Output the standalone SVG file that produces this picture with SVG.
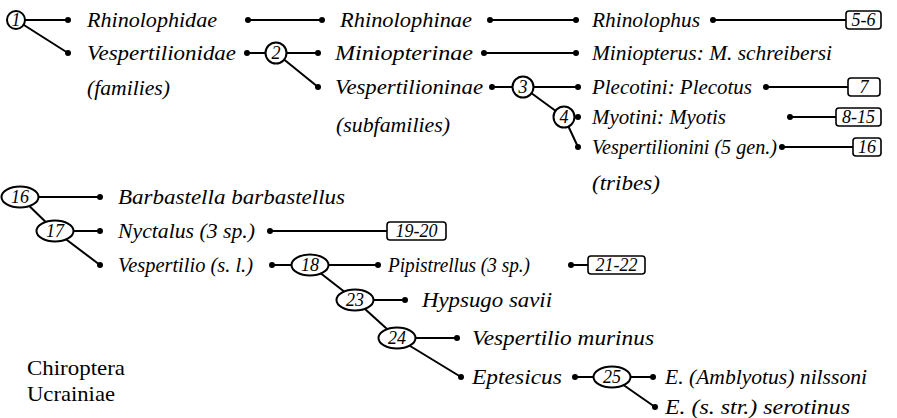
<svg xmlns="http://www.w3.org/2000/svg" width="897" height="418" viewBox="0 0 897 418">
<style>
text{font-family:"Liberation Serif","Times New Roman","DejaVu Serif",serif}
.t{font-size:22px;font-style:italic}
.u{font-size:22px;font-style:normal}
.n{font-size:18px;font-style:italic;text-anchor:middle}
.c{fill:#fff;stroke:#000;stroke-width:2}
.b{fill:#fff;stroke:#000;stroke-width:1.6}
#connectors line{stroke:#000;stroke-width:2}
.d{fill:#000}
</style>
<rect width="897" height="418" fill="#fff"/>
<g id="connectors">
<line x1="16" y1="20" x2="68" y2="20"/><line x1="16" y1="20" x2="68" y2="53"/>
<line x1="248" y1="20" x2="322" y2="20"/>
<line x1="490" y1="20" x2="576" y2="20"/>
<line x1="713" y1="20" x2="846" y2="20"/>
<line x1="247" y1="53" x2="318" y2="53"/><line x1="276" y1="53" x2="318" y2="87"/>
<line x1="484" y1="53" x2="576" y2="53"/>
<line x1="492" y1="87" x2="578" y2="87"/><line x1="523" y1="87" x2="564" y2="117"/>
<line x1="564" y1="117" x2="578" y2="117"/><line x1="564" y1="117" x2="578" y2="147"/>
<line x1="766" y1="87" x2="848" y2="87"/>
<line x1="790" y1="117" x2="836" y2="117"/>
<line x1="782" y1="147" x2="853" y2="147"/>
<line x1="20" y1="197" x2="100" y2="197"/><line x1="20" y1="197" x2="55" y2="231"/>
<line x1="55" y1="231" x2="100" y2="231"/><line x1="55" y1="231" x2="100" y2="265"/>
<line x1="270" y1="231" x2="387" y2="231"/>
<line x1="272" y1="265" x2="378" y2="265"/><line x1="310" y1="265" x2="355" y2="300"/>
<line x1="571" y1="265" x2="588" y2="265"/>
<line x1="355" y1="300" x2="405" y2="300"/><line x1="355" y1="300" x2="397" y2="338"/>
<line x1="397" y1="338" x2="457" y2="338"/><line x1="397" y1="338" x2="461" y2="377"/>
<line x1="575" y1="377" x2="653" y2="377"/><line x1="612" y1="377" x2="655" y2="407"/>
</g>
<g id="dots">
<circle class="d" cx="68" cy="20" r="3"/><circle class="d" cx="68" cy="53" r="3"/>
<circle class="d" cx="248" cy="20" r="3"/><circle class="d" cx="322" cy="20" r="3"/>
<circle class="d" cx="490" cy="20" r="3"/><circle class="d" cx="576" cy="20" r="3"/>
<circle class="d" cx="713" cy="20" r="3"/>
<circle class="d" cx="247" cy="53" r="3"/><circle class="d" cx="318" cy="53" r="3"/><circle class="d" cx="318" cy="87" r="3"/>
<circle class="d" cx="484" cy="53" r="3"/><circle class="d" cx="576" cy="53" r="3"/>
<circle class="d" cx="492" cy="87" r="3"/><circle class="d" cx="578" cy="87" r="3"/>
<circle class="d" cx="578" cy="117" r="3"/><circle class="d" cx="578" cy="147" r="3"/>
<circle class="d" cx="766" cy="87" r="3"/><circle class="d" cx="790" cy="117" r="3"/><circle class="d" cx="782" cy="147" r="3"/>
<circle class="d" cx="100" cy="197" r="3"/><circle class="d" cx="100" cy="231" r="3"/><circle class="d" cx="100" cy="265" r="3"/>
<circle class="d" cx="270" cy="231" r="3"/><circle class="d" cx="272" cy="265" r="3"/><circle class="d" cx="378" cy="265" r="3"/>
<circle class="d" cx="571" cy="265" r="3"/><circle class="d" cx="405" cy="300" r="3"/>
<circle class="d" cx="457" cy="338" r="3"/><circle class="d" cx="461" cy="377" r="3"/>
<circle class="d" cx="575" cy="377" r="3"/><circle class="d" cx="653" cy="377" r="3"/><circle class="d" cx="655" cy="407" r="3"/>
</g>
<g id="n1"><circle class="c" cx="16" cy="20" r="9"/><text class="n" x="16" y="26">1</text></g>
<g id="n2"><circle class="c" cx="276" cy="53" r="10.5"/><text class="n" x="276" y="59">2</text></g>
<g id="n3"><circle class="c" cx="523" cy="87" r="10.5"/><text class="n" x="523" y="93">3</text></g>
<g id="n4"><circle class="c" cx="564" cy="117" r="10.5"/><text class="n" x="564" y="123">4</text></g>
<g id="n16"><ellipse class="c" cx="20" cy="197" rx="18.5" ry="10.5"/><text class="n" x="20" y="203">16</text></g>
<g id="n17"><ellipse class="c" cx="55" cy="231" rx="18.5" ry="10.5"/><text class="n" x="55" y="237">17</text></g>
<g id="n18"><ellipse class="c" cx="310" cy="265" rx="18.5" ry="10.5"/><text class="n" x="310" y="271">18</text></g>
<g id="n23"><ellipse class="c" cx="355" cy="300" rx="18.5" ry="10.5"/><text class="n" x="355" y="306">23</text></g>
<g id="n24"><ellipse class="c" cx="397" cy="338" rx="18.5" ry="10.5"/><text class="n" x="397" y="344">24</text></g>
<g id="n25"><ellipse class="c" cx="612" cy="377" rx="18.5" ry="10.5"/><text class="n" x="612" y="383">25</text></g>
<g id="b56"><rect class="b" x="846" y="11" width="35" height="18" rx="3"/><text class="n" x="863.5" y="26">5-6</text></g>
<g id="b7"><rect class="b" x="848" y="78" width="32" height="18" rx="3"/><text class="n" x="864" y="93">7</text></g>
<g id="b815"><rect class="b" x="836" y="108" width="45" height="18" rx="3"/><text class="n" x="858.5" y="123">8-15</text></g>
<g id="b16"><rect class="b" x="853" y="138" width="28" height="18" rx="3"/><text class="n" x="867" y="153">16</text></g>
<g id="b1920"><rect class="b" x="387" y="222" width="59" height="18" rx="3"/><text class="n" x="416.5" y="237">19-20</text></g>
<g id="b2122"><rect class="b" x="588" y="256" width="57" height="18" rx="3"/><text class="n" x="616.5" y="271">21-22</text></g>
<g id="labels">
<text class="t" x="87" y="27" textLength="130" lengthAdjust="spacingAndGlyphs">Rhinolophidae</text>
<text class="t" x="340" y="27" textLength="132" lengthAdjust="spacingAndGlyphs">Rhinolophinae</text>
<text class="t" x="592" y="27" textLength="108" lengthAdjust="spacingAndGlyphs">Rhinolophus</text>
<text class="t" x="87" y="60" textLength="149" lengthAdjust="spacingAndGlyphs">Vespertilionidae</text>
<text class="t" x="335" y="60" textLength="138" lengthAdjust="spacingAndGlyphs">Miniopterinae</text>
<text class="t" x="592" y="60" textLength="240" lengthAdjust="spacingAndGlyphs">Miniopterus: M. schreibersi</text>
<text class="t" x="87" y="95" textLength="83" lengthAdjust="spacingAndGlyphs">(families)</text>
<text class="t" x="335" y="94" textLength="148" lengthAdjust="spacingAndGlyphs">Vespertilioninae</text>
<text class="t" x="592" y="94" textLength="160" lengthAdjust="spacingAndGlyphs">Plecotini: Plecotus</text>
<text class="t" x="592" y="124" textLength="134" lengthAdjust="spacingAndGlyphs">Myotini: Myotis</text>
<text class="t" x="336" y="132" textLength="114" lengthAdjust="spacingAndGlyphs">(subfamilies)</text>
<text class="t" x="592" y="154" textLength="185" lengthAdjust="spacingAndGlyphs">Vespertilionini (5 gen.)</text>
<text class="t" x="592" y="190" textLength="68" lengthAdjust="spacingAndGlyphs">(tribes)</text>
<text class="t" x="118" y="204" textLength="227" lengthAdjust="spacingAndGlyphs">Barbastella barbastellus</text>
<text class="t" x="118" y="238" textLength="137" lengthAdjust="spacingAndGlyphs">Nyctalus (3 sp.)</text>
<text class="t" x="118" y="272" textLength="135" lengthAdjust="spacingAndGlyphs">Vespertilio (s. l.)</text>
<text class="t" x="388" y="272" textLength="142" lengthAdjust="spacingAndGlyphs">Pipistrellus (3 sp.)</text>
<text class="t" x="422" y="307" textLength="130" lengthAdjust="spacingAndGlyphs">Hypsugo savii</text>
<text class="t" x="472" y="345" textLength="182" lengthAdjust="spacingAndGlyphs">Vespertilio murinus</text>
<text class="t" x="472" y="384" textLength="90" lengthAdjust="spacingAndGlyphs">Eptesicus</text>
<text class="t" x="665" y="384" textLength="202" lengthAdjust="spacingAndGlyphs">E. (Amblyotus) nilssoni</text>
<text class="t" x="665" y="414" textLength="185" lengthAdjust="spacingAndGlyphs">E. (s. str.) serotinus</text>
<text class="u" x="27" y="375" textLength="98" lengthAdjust="spacingAndGlyphs">Chiroptera</text>
<text class="u" x="27" y="401" textLength="88" lengthAdjust="spacingAndGlyphs">Ucrainiae</text>
</g>
</svg>
